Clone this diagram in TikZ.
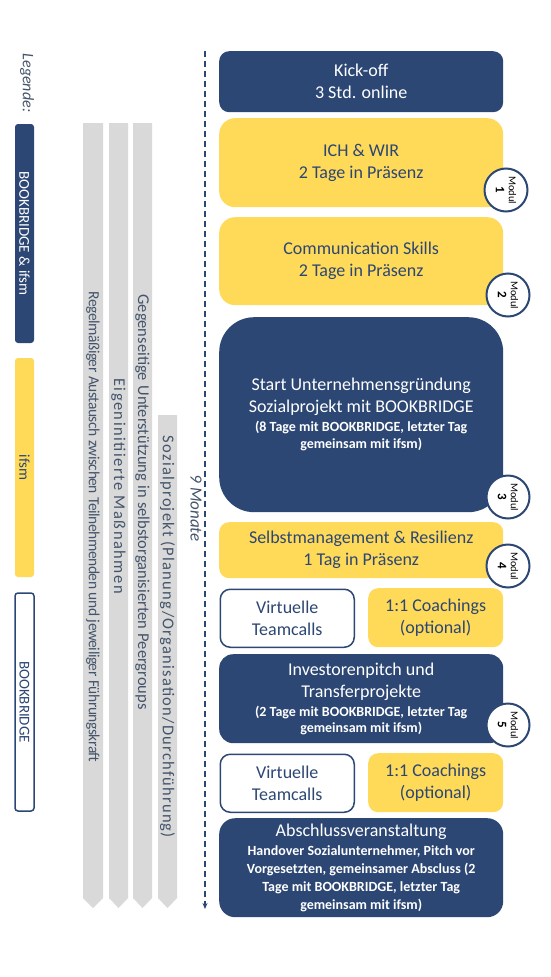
\documentclass[tikz,border=0pt]{standalone}
\usepackage{fontspec}
\setmainfont{Carlito}
\usetikzlibrary{arrows.meta}
\definecolor{navy}{RGB}{44,71,116}
\definecolor{gold}{RGB}{255,217,88}
\definecolor{barg}{RGB}{217,217,217}
\definecolor{slate}{RGB}{68,84,106}
\newcommand\bigf{\fontsize{18}{22}\selectfont}
\newcommand\smf{\fontsize{14}{17}\selectfont\bfseries}
\begin{document}
\begin{tikzpicture}[x=1pt,y=-1pt,
  box/.style={anchor=north west, align=center, inner sep=0pt, font=\bigf},
  navybox/.style={box, fill=navy, text=white},
  goldbox/.style={box, fill=gold, text=navy},
  whitebox/.style={box, draw=navy, line width=1.5pt, fill=white, text=navy},
  legbar/.style={rotate=-90, inner sep=0pt, minimum height=19pt, font=\fontsize{15}{17}\selectfont},
  graybar/.style={fill=barg},
  bartext/.style={rotate=-90, inner sep=0pt, text=slate, font=\fontsize{16.5}{18}\selectfont},
  modcircle/.style={circle, draw=navy, line width=2pt, fill=white, minimum size=43pt, inner sep=0pt, rotate=-90, align=center, text=black},
  timeline/.style={draw=navy, line width=1.2pt, dash pattern=on 6pt off 4pt, -{Stealth[length=6pt,width=5pt]}},
  lbl/.style={rotate=-90, text=slate, font=\fontsize{16}{18}\selectfont\itshape}
]
\useasboundingbox[fill=white] (0,0) rectangle (550,977);

% legend
\node[lbl] (legende) at (27,83) {Legende:};
\node[legbar, fill=navy, text=white, minimum width=219pt, rounded corners=3pt] (lbb) at (24.5,233.5) {BOOKBRIDGE \& ifsm};
\node[legbar, fill=gold, text=navy, minimum width=219pt, rounded corners=3pt] (lif) at (24.5,467.5) {ifsm};
\node[legbar, draw=navy, line width=1.5pt, fill=white, text=navy, minimum width=218pt, rounded corners=3pt] (lbk) at (24.5,702) {BOOKBRIDGE};

% gray bars
\fill[graybar] (83,123) -- (103,123) -- (103,898) -- (93,908) -- (83,898) -- cycle;
\fill[graybar] (109,123) -- (128,123) -- (128,898) -- (118.5,908) -- (109,898) -- cycle;
\fill[graybar] (133,123) -- (152,123) -- (152,898) -- (142.5,908) -- (133,898) -- cycle;
\fill[graybar] (158,415) -- (177,415) -- (177,898) -- (167.5,908) -- (158,898) -- cycle;
\node[bartext, font=\fontsize{15.5}{18}\selectfont] (b1) at (93,527) {\addfontfeature{LetterSpace=-3}\makebox[471pt][s]{Regelmäßiger Austausch zwischen Teilnehmenden und jeweiliger Führungskraft}};
\node[bartext] (b2) at (118.5,486) {\addfontfeature{LetterSpace=9}Eigeninitiierte Maßnahmen};
\node[bartext] (b3) at (142.5,502) {\makebox[415pt][s]{Gegenseitige Unterstützung in selbstorganisierten Peergroups}};
\node[bartext] (b4) at (167.5,637) {\addfontfeature{LetterSpace=7.5}Sozialprojekt (Planung/Organisation/Durchführung)};

% timeline
\coordinate (tstart) at (205,51);
\coordinate (tend) at (205,909);
\draw[timeline] (tstart) -- (tend);
\node[lbl, font=\fontsize{17}{19}\selectfont\itshape] (monate) at (196,508) {9 Monate};

% boxes
\node[navybox, minimum width=284pt, minimum height=61pt, rounded corners=10pt] (kick) at (219,51) {Kick-off\\3 Std. online};
\node[goldbox, minimum width=284pt, minimum height=89pt, rounded corners=16pt] (ich) at (219,118) {ICH \& WIR\\2 Tage in Präsenz};
\node[goldbox, minimum width=284pt, minimum height=88pt, rounded corners=16pt] (comm) at (219,217) {Communication Skills\\2 Tage in Präsenz};
\node[navybox, minimum width=284pt, minimum height=195pt, rounded corners=35pt] (start) at (219,317) {Start Unternehmensgründung\\Sozialprojekt mit BOOKBRIDGE\\[-3pt] \smf (8 Tage mit BOOKBRIDGE, letzter Tag\\[-5pt] \smf gemeinsam mit ifsm)};
\node[goldbox, minimum width=284pt, minimum height=56pt, rounded corners=10pt] (selbst) at (219,522) {Selbstmanagement \& Resilienz\\1 Tag in Präsenz};
\node[whitebox, minimum width=134pt, minimum height=58pt, rounded corners=10pt] (vt1) at (219.5,588.5) {Virtuelle\\Teamcalls};
\node[goldbox, minimum width=135pt, minimum height=59pt, rounded corners=10pt] (co1) at (368,588) {1:1 Coachings\\(optional)};
\node[navybox, minimum width=284pt, minimum height=89pt, rounded corners=14pt] (inv) at (219,654) {Investorenpitch und\\Transferprojekte\\[-3pt] \smf (2 Tage mit BOOKBRIDGE, letzter Tag\\[-6pt] \smf gemeinsam mit ifsm)};
\node[whitebox, minimum width=134pt, minimum height=58pt, rounded corners=10pt] (vt2) at (219.5,753.5) {Virtuelle\\Teamcalls};
\node[goldbox, minimum width=135pt, minimum height=59pt, rounded corners=10pt] (co2) at (368,753) {1:1 Coachings\\(optional)};
\node[navybox, minimum width=284pt, minimum height=99pt, rounded corners=16pt] (absch) at (219,818) {Abschlussveranstaltung\\[-3pt] \smf Handover Sozialunternehmer, Pitch vor\\[-4pt] \smf Vorgesetzten, gemeinsamer Abscluss (2\\[-4pt] \smf Tage mit BOOKBRIDGE, letzter Tag\\[-4pt] \smf gemeinsam mit ifsm)};

% module circles
\node[modcircle] (m1) at (506,190) {\fontsize{10.5}{12}\selectfont Modul\\[1pt]\fontsize{13}{12}\selectfont\bfseries 1};
\node[modcircle] (m2) at (508,295) {\fontsize{10.5}{12}\selectfont Modul\\[1pt]\fontsize{13}{12}\selectfont\bfseries 2};
\node[modcircle] (m3) at (508,497) {\fontsize{10.5}{12}\selectfont Modul\\[1pt]\fontsize{13}{12}\selectfont\bfseries 3};
\node[modcircle] (m4) at (508,566) {\fontsize{10.5}{12}\selectfont Modul\\[1pt]\fontsize{13}{12}\selectfont\bfseries 4};
\node[modcircle] (m5) at (508,725) {\fontsize{10.5}{12}\selectfont Modul\\[1pt]\fontsize{13}{12}\selectfont\bfseries 5};
\end{tikzpicture}
\end{document}
